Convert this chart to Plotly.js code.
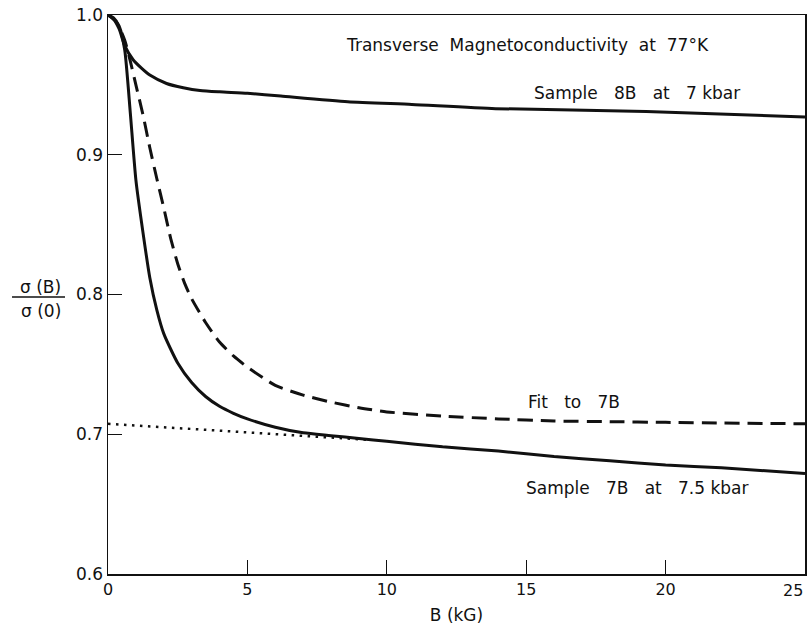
<!DOCTYPE html>
<html>
<head>
<meta charset="utf-8">
<script src="https://cdn.plot.ly/plotly-3.0.1.min.js"></script>
<style>html,body{margin:0;padding:0;background:#fff;}#chart{width:807px;height:625px;}</style>
</head>
<body>
<div id="chart"></div>
<script>
// Sample 8B at 7 kbar
const b8B = [0, 0.2, 0.4, 0.6, 0.9, 1.2, 1.5, 2.1, 2.7, 3.3, 4.0, 5.0, 6.2, 8.6, 10.9, 13.9, 19.3, 25];
const v8B = [1.0, 0.997, 0.99, 0.978, 0.968, 0.962, 0.957, 0.951, 0.948, 0.946, 0.945, 0.944, 0.942, 0.938, 0.936, 0.933, 0.931, 0.927];

// Sample 7B at 7.5 kbar
const b7B = [0, 0.2, 0.4, 0.6, 0.8, 1.0, 1.25, 1.5, 1.75, 2.0, 2.5, 3.0, 3.5, 4.0, 4.5, 5.0, 6.0, 7.0, 8.0, 9.0, 10, 12, 14, 16, 18, 20, 22, 25];
const v7B = [1.0, 0.998, 0.992, 0.975, 0.93, 0.882, 0.845, 0.812, 0.789, 0.772, 0.751, 0.737, 0.727, 0.72, 0.715, 0.711, 0.705, 0.701, 0.699, 0.697, 0.695, 0.691, 0.688, 0.684, 0.681, 0.678, 0.676, 0.672];

// Fit to 7B
const bFit = [0, 0.3, 0.6, 0.8, 1.0, 1.25, 1.5, 1.75, 2.0, 2.25, 2.5, 2.75, 3.0, 3.5, 4.0, 4.5, 5.0, 6.0, 7.0, 8.0, 9.0, 10, 12, 14, 16, 18, 20, 22, 25];
const vFit = [1.0, 0.995, 0.982, 0.967, 0.95, 0.929, 0.905, 0.883, 0.862, 0.84, 0.822, 0.808, 0.797, 0.78, 0.766, 0.756, 0.748, 0.735, 0.728, 0.723, 0.719, 0.716, 0.713, 0.711, 0.7095, 0.709, 0.7085, 0.708, 0.7075];

// Linear extrapolation (dotted)
const bExt = [0, 4.5, 9.3];
const vExt = [0.7075, 0.7018, 0.696];

// Axis ticks
const xTicks = [0, 5, 10, 15, 20, 25];
const xTickText = ['0', '5', '10', '15', '20', ''];
const xLastLabel = '25';
const yTicks = [0.6, 0.7, 0.8, 0.9, 1.0];
const yTickText = ['0.6', '0.7', '0.8', '0.9', '1.0'];

const FONT = 'DejaVu Sans, sans-serif';
const INK = '#111';
const S = '\u00A0';

const traces = [
  {x: b8B, y: v8B, mode: 'lines', line: {color: INK, width: 3, shape: 'spline', smoothing: 0.6}, hoverinfo: 'skip'},
  {x: b7B, y: v7B, mode: 'lines', line: {color: INK, width: 3, shape: 'spline', smoothing: 0.6}, hoverinfo: 'skip'},
  {x: bFit, y: vFit, mode: 'lines', line: {color: INK, width: 3, dash: '15px,8px', shape: 'spline', smoothing: 0.6}, hoverinfo: 'skip'},
  {x: bExt, y: vExt, mode: 'lines', line: {color: INK, width: 2.5, dash: '2.5px,5.5px'}, hoverinfo: 'skip'}
];

const layout = {
  width: 807, height: 625,
  margin: {l: 108, r: 2, t: 15, b: 51, pad: 0},
  paper_bgcolor: '#fff', plot_bgcolor: '#fff',
  showlegend: false,
  font: {family: FONT, color: INK, size: 16},
  xaxis: {
    range: [0, 25], tickvals: xTicks, ticktext: xTickText,
    ticks: 'inside', ticklen: 14, tickwidth: 1, tickcolor: INK,
    showline: true, linecolor: INK, linewidth: 1.5, mirror: true,
    showgrid: false, zeroline: false,
    tickfont: {family: FONT, size: 16, color: INK},
    title: {text: 'B' + S + '(kG)', font: {family: FONT, size: 17, color: INK}, standoff: 12}
  },
  yaxis: {
    range: [0.6, 1.0], tickvals: yTicks, ticktext: yTickText,
    ticks: 'inside', ticklen: 14, tickwidth: 1, tickcolor: INK,
    showline: true, linecolor: INK, linewidth: 1.5, mirror: true,
    showgrid: false, zeroline: false,
    tickfont: {family: FONT, size: 17, color: INK}
  },
  shapes: [
    {type: 'line', xref: 'paper', yref: 'paper', x0: -0.1377, x1: -0.0617, y0: 0.4955, y1: 0.4955, line: {color: INK, width: 1.5}}
  ],
  annotations: [
    {x: 15.03, y: 0.9785, xref: 'x', yref: 'y', text: 'Transverse' + S + S + 'Magnetoconductivity' + S + S + 'at' + S + S + '77°K', showarrow: false, font: {family: FONT, size: 17, color: INK}},
    {x: 18.97, y: 0.944, xref: 'x', yref: 'y', text: 'Sample' + S + S + S + '8B' + S + S + S + 'at' + S + S + S + '7' + S + 'kbar', showarrow: false, font: {family: FONT, size: 17, color: INK}},
    {x: 16.7, y: 0.723, xref: 'x', yref: 'y', text: 'Fit' + S + S + S + 'to' + S + S + S + '7B', showarrow: false, font: {family: FONT, size: 17, color: INK}},
    {x: 18.97, y: 0.6615, xref: 'x', yref: 'y', text: 'Sample' + S + S + S + '7B' + S + S + S + 'at' + S + S + S + '7.5' + S + 'kbar', showarrow: false, font: {family: FONT, size: 17, color: INK}},
    {x: 25, y: 0, xref: 'x', yref: 'paper', xanchor: 'right', yanchor: 'top', yshift: -5, text: xLastLabel, showarrow: false, font: {family: FONT, size: 16, color: INK}},
    {x: -0.0646, y: 0.513, xref: 'paper', yref: 'paper', xanchor: 'right', text: 'σ' + S + '(B)', showarrow: false, font: {family: FONT, size: 17, color: INK}},
    {x: -0.0646, y: 0.4705, xref: 'paper', yref: 'paper', xanchor: 'right', text: 'σ' + S + '(0)', showarrow: false, font: {family: FONT, size: 17, color: INK}}
  ]
};

Plotly.newPlot('chart', traces, layout, {displayModeBar: false, staticPlot: true});
</script>
</body>
</html>
